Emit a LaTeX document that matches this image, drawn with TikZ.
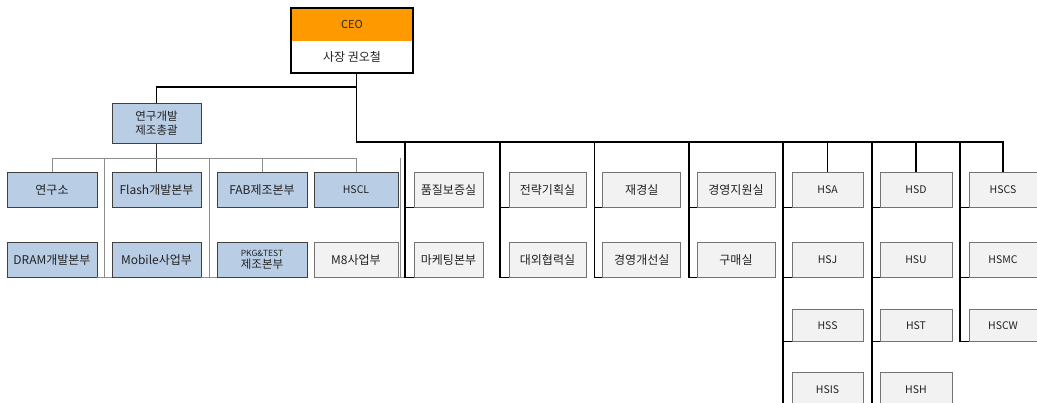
\documentclass[tikz,border=0pt]{standalone}
\usepackage{fontspec}
\setmainfont{Noto Sans CJK KR}
\definecolor{bluef}{HTML}{B9CDE5}
\definecolor{grayf}{HTML}{F2F2F2}
\definecolor{orangef}{HTML}{FF9900}
\definecolor{txt}{HTML}{222222}
\definecolor{gline}{HTML}{8C8C8C}
\begin{document}
\begin{tikzpicture}[x=1pt,y=-1pt,
  box/.style={draw, inner sep=0pt, align=center, text=txt, font=\fontsize{12}{14}\selectfont, minimum height=35pt},
  bbox/.style={box, fill=bluef, draw=black!75, line width=0.9pt},
  gbox/.style={box, fill=grayf, draw=black!55, line width=0.8pt},
  lat/.style={font=\fontsize{10.5}{12}\selectfont},
  conn/.style={draw=black, line width=1.2pt},
  gconn/.style={draw=gline, line width=0.9pt},
  dconn/.style={draw=black!80, line width=1pt}]
\useasboundingbox (0,0) rectangle (1037,403);
\fill[white] (0,0) rectangle (1037,403);

% CEO
\node[inner sep=0pt, minimum width=122pt, minimum height=33pt, fill=orangef, text=black!85, font=\fontsize{11}{12}\selectfont] (ceo) at (352,24.5) {CEO};
\node[inner sep=0pt, minimum width=122pt, minimum height=31.7pt, fill=white, text=txt, font=\fontsize{12}{14}\selectfont, anchor=north] (ceon) at (ceo.south) {사장 권오철};
\draw[black, line width=1.6pt] (ceo.north west) rectangle (ceon.south east);

% coordinates
\coordinate (trunk) at (356.5,142);
\coordinate (lbr) at (356.5,87);
\coordinate (lh) at (156.5,158);
\coordinate (g1) at (104,158);
\coordinate (g2) at (209,158);
\coordinate (g3) at (400.5,158);
\coordinate (c1) at (405,142);
\coordinate (c2) at (500,142);
\coordinate (c3) at (594.5,142);
\coordinate (c4) at (689,142);
\coordinate (c5) at (783,142);
\coordinate (c6) at (872,142);
\coordinate (c7) at (960,142);

% left group
\node[bbox, minimum width=89pt, minimum height=40pt, font=\fontsize{11.5}{14}\selectfont] (yg) at (156.5,123) {연구개발\\제조총괄};
\node[bbox, minimum width=90pt] (yrs) at (52,190) {연구소};
\node[bbox, minimum width=89pt] (flash) at (156.5,190) {Flash개발본부};
\node[bbox, minimum width=90pt] (fab) at (262,190) {FAB제조본부};
\node[bbox, minimum width=84pt, lat] (hscl) at (356,190) {HSCL};
\node[bbox, minimum width=90pt] (dram) at (52,260) {DRAM개발본부};
\node[bbox, minimum width=89pt] (mob) at (156.5,260) {Mobile사업부};
\node[bbox, minimum width=90pt, font=\fontsize{11.5}{11.5}\selectfont] (pkg) at (262,260) {{\fontsize{8.5}{9}\selectfont PKG\&TEST}\\제조본부};
\node[gbox, minimum width=84pt] (m8) at (356,260) {M8사업부};

% right group
\node[gbox, minimum width=69pt] (qa) at (448.5,190) {품질보증실};
\node[gbox, minimum width=69pt] (mk) at (448.5,260) {마케팅본부};
\node[gbox, minimum width=77pt] (st) at (547.5,190) {전략기획실};
\node[gbox, minimum width=77pt] (ex) at (547.5,260) {대외협력실};
\node[gbox, minimum width=78pt] (fi) at (641.8,190) {재경실};
\node[gbox, minimum width=78pt] (mi) at (641.8,260) {경영개선실};
\node[gbox, minimum width=78pt] (ms) at (736,190) {경영지원실};
\node[gbox, minimum width=78pt] (pu) at (736,260) {구매실};
\node[gbox, minimum width=71pt, lat] (hsa) at (827.5,190) {HSA};
\node[gbox, minimum width=71pt, lat] (hsj) at (827.5,260) {HSJ};
\node[gbox, minimum width=71pt, minimum height=32pt, lat] (hss) at (827.5,325.5) {HSS};
\node[gbox, minimum width=71pt, lat] (hsis) at (827.5,389.5) {HSIS};
\node[gbox, minimum width=72pt, lat] (hsd) at (916,190) {HSD};
\node[gbox, minimum width=72pt, lat] (hsu) at (916,260) {HSU};
\node[gbox, minimum width=72pt, minimum height=32pt, lat] (hst) at (916,325.5) {HST};
\node[gbox, minimum width=72pt, lat] (hsh) at (916,389.5) {HSH};
\node[gbox, minimum width=68pt, lat] (hscs) at (1003,190) {HSCS};
\node[gbox, minimum width=68pt, lat] (hsmc) at (1003,260) {HSMC};
\node[gbox, minimum width=68pt, minimum height=32pt, lat] (hscw) at (1003,325.5) {HSCW};

% main connectors
\draw[conn] (trunk |- ceon.south) -- (trunk) -| (hscs.north);
\draw[conn] (lbr) -| (yg.north);
\draw[conn] (hsa.north |- trunk) -- (hsa.north);
\draw[conn] (hsd.north |- trunk) -- (hsd.north);

% left group connectors
\draw[dconn] (yg.south) -- (flash.north);
\draw[gconn] (yrs.north) -- (yrs.north |- lh) -- (hscl.north |- lh) -- (hscl.north);
\draw[gconn] (fab.north |- lh) -- (fab.north);
\draw[gconn] (g1) -- (g1 |- mob.south west);
\draw[gconn] (dram.south east) -- (mob.south west);
\draw[gconn] (g2) -- (g2 |- pkg.south west);
\draw[gconn] (mob.south east) -- (pkg.south west);
\draw[gconn] (g3) -- (g3 |- m8.south east);
\draw[gconn] (m8.south east) -- (m8.south east -| c1);

% right group hanging connectors
\draw[conn] (c1) |- (qa.south west);
\draw[conn] (c1) |- (mk.south west);
\draw[conn] (c2) |- (st.south west);
\draw[conn] (c2) |- (ex.south west);
\draw[conn] (c3) |- (fi.south west);
\draw[conn] (c3) |- (mi.south west);
\draw[conn] (c4) |- (ms.south west);
\draw[conn] (c4) |- (pu.south west);
\draw[conn] (c5) |- (hsa.south west);
\draw[conn] (c5) |- (hsj.south west);
\draw[conn] (c5) |- (hss.south west);
\draw[conn] (c5) |- (hsis.south west);
\draw[conn] (c6) |- (hsd.south west);
\draw[conn] (c6) |- (hsu.south west);
\draw[conn] (c6) |- (hst.south west);
\draw[conn] (c6) |- (hsh.south west);
\draw[conn] (c7) |- (hscs.south west);
\draw[conn] (c7) |- (hsmc.south west);
\draw[conn] (c7) |- (hscw.south west);
\end{tikzpicture}
\end{document}
